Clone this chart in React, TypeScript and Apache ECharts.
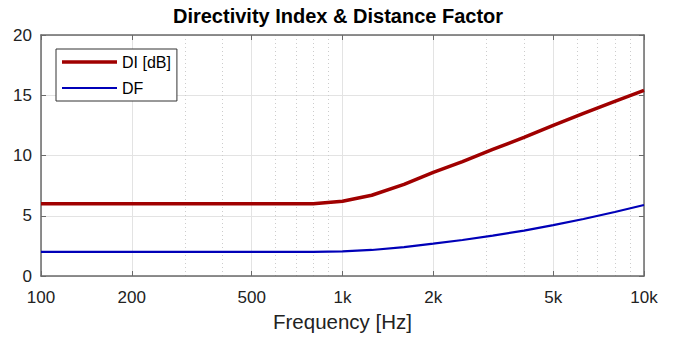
import React, { useEffect, useRef } from "react";
import * as echarts from "echarts";

const freqs = [100, 125, 160, 200, 250, 315, 400, 500, 630, 800, 1000, 1250, 1600, 2000, 2500, 3150, 4000, 5000, 6300, 8000, 10000];
const diValues = [6.0, 6.0, 6.0, 6.0, 6.0, 6.0, 6.0, 6.0, 6.0, 6.0, 6.2, 6.7, 7.6, 8.6, 9.5, 10.5, 11.5, 12.5, 13.5, 14.5, 15.4];
const dfValues = [2.0, 2.0, 2.0, 2.0, 2.0, 2.0, 2.0, 2.0, 2.0, 2.0, 2.04, 2.16, 2.4, 2.69, 2.99, 3.35, 3.76, 4.22, 4.73, 5.31, 5.89];
const majorTicks = [100, 200, 500, 1000, 2000, 5000, 10000];
const minorTicks = [300, 400, 600, 700, 800, 900, 3000, 4000, 6000, 7000, 8000, 9000];
const yTicks = [0, 5, 10, 15, 20];

const FONT = "Liberation Sans, Arial, sans-serif";

function fmt(v: number) {
  const f = Math.round(Math.pow(10, v));
  return f >= 1000 ? f / 1000 + "k" : String(f);
}

export default function App() {
  const ref = useRef<HTMLDivElement>(null);
  useEffect(() => {
    if (!ref.current) return;
    const chart = echarts.init(ref.current, undefined, { renderer: "svg" });
    const major = majorTicks.map((f) => Math.log10(f));
    const minor = minorTicks.map((f) => Math.log10(f));
    const frame = { show: true, lineStyle: { color: "#6a6a6a", width: 1.5 } };
    chart.setOption({
      animation: false,
      backgroundColor: "#fff",
      title: {
        text: "Directivity Index & Distance Factor",
        left: "center",
        top: 6,
        padding: 0,
        textStyle: { fontSize: 20, fontWeight: "bold", color: "#000", fontFamily: FONT },
      },
      legend: {
        orient: "vertical",
        left: 56,
        top: 49,
        padding: [3, 6, 3, 6],
        itemGap: 6,
        itemWidth: 55,
        itemHeight: 14,
        symbolKeepAspect: true,
        borderColor: "#333",
        borderWidth: 1,
        borderRadius: 0,
        backgroundColor: "#fff",
        textStyle: { fontSize: 16, color: "#000", fontFamily: FONT, lineHeight: 20 },
        data: [
          { name: "DI [dB]", icon: "path://M0 0H55V3.5H0Z" },
          { name: "DF", icon: "path://M0 0H55V2.2H0Z" },
        ],
      },
      grid: { left: 41, right: 32, top: 35, bottom: 61, containLabel: false, outerBoundsMode: "none" },
      xAxis: [
        {
          type: "value",
          min: 2,
          max: 4,
          position: "bottom",
          axisLine: frame,
          axisTick: { show: true, inside: true, length: 5, customValues: major, lineStyle: { color: "#6a6a6a" } },
          axisLabel: { customValues: major, formatter: fmt, fontSize: 17, color: "#222", margin: 13, fontFamily: FONT },
          splitLine: { show: true, lineStyle: { color: "#e3e3e3", width: 1 } },
          name: "Frequency [Hz]",
          nameLocation: "middle",
          nameGap: 33,
          nameTextStyle: { fontSize: 20.5, color: "#222", fontFamily: FONT },
        },
        {
          type: "value",
          min: 2,
          max: 4,
          position: "bottom",
          axisLine: { show: false },
          axisTick: { show: false, customValues: minor },
          axisLabel: { show: false, customValues: minor },
          splitLine: { show: true, lineStyle: { color: "#cccccc", width: 1, type: [1, 3] } },
        },
        {
          type: "value",
          min: 2,
          max: 4,
          position: "top",
          axisLine: frame,
          axisTick: { show: true, inside: true, length: 5, customValues: major, lineStyle: { color: "#6a6a6a" } },
          axisLabel: { show: false },
          splitLine: { show: false },
        },
      ],
      yAxis: [
        {
          type: "value",
          min: 0,
          max: 20,
          interval: 5,
          position: "left",
          axisLine: frame,
          axisTick: { show: true, inside: true, length: 5, lineStyle: { color: "#6a6a6a" } },
          axisLabel: { fontSize: 17, color: "#222", margin: 9, fontFamily: FONT, customValues: yTicks },
          splitLine: { show: true, lineStyle: { color: "#e3e3e3", width: 1 } },
        },
        {
          type: "value",
          min: 0,
          max: 20,
          interval: 5,
          position: "right",
          axisLine: frame,
          axisTick: { show: true, inside: true, length: 5, lineStyle: { color: "#6a6a6a" } },
          axisLabel: { show: false },
          splitLine: { show: false },
        },
      ],
      series: [
        {
          name: "DI [dB]",
          type: "line",
          xAxisIndex: 0,
          yAxisIndex: 0,
          symbol: "none",
          data: freqs.map((f, i) => [Math.log10(f), diValues[i]]),
          lineStyle: { color: "#a00000", width: 3.5 },
          itemStyle: { color: "#a00000" },
          z: 4,
        },
        {
          name: "DF",
          type: "line",
          xAxisIndex: 0,
          yAxisIndex: 0,
          symbol: "none",
          data: freqs.map((f, i) => [Math.log10(f), dfValues[i]]),
          lineStyle: { color: "#0000b8", width: 2.2 },
          itemStyle: { color: "#0000b8" },
          z: 3,
        },
      ],
    });
    return () => chart.dispose();
  }, []);
  return <div ref={ref} style={{ position: "fixed", left: 0, top: 0, width: 676, height: 337 }} />;
}
